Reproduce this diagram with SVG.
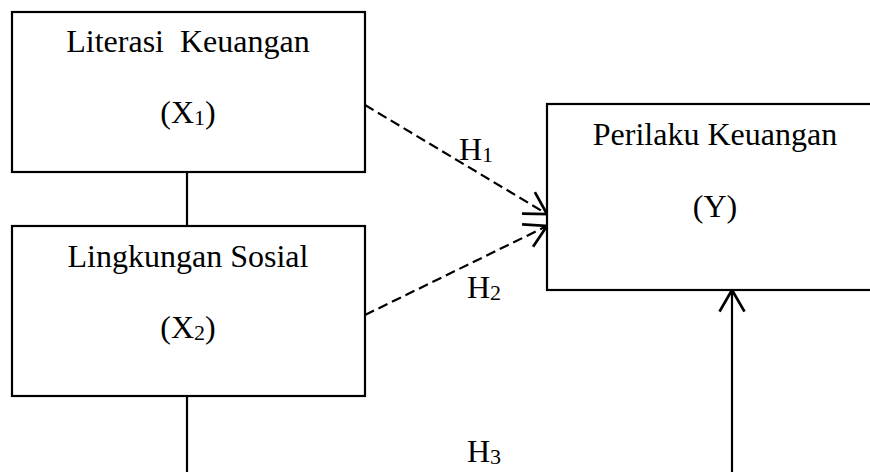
<svg xmlns="http://www.w3.org/2000/svg" width="870" height="472" viewBox="0 0 870 472">
<style>
  .box { fill: #ffffff; stroke: #000000; stroke-width: 2.2; }
  .t { font-family: "Liberation Serif", "Times New Roman", serif; font-size: 32px; fill: #000000; white-space: pre; }
  .c { text-anchor: middle; }
  .sub { font-size: 22px; }
  .ln { stroke: #000000; stroke-width: 2.2; fill: none; }
  .dash { stroke-dasharray: 10 5; }
</style>
<defs>
  <marker id="arr" markerUnits="userSpaceOnUse" markerWidth="30" markerHeight="30" refX="0" refY="0" viewBox="-20 -12 22 24" orient="auto" overflow="visible">
    <path d="M -17.3 -10 L 0 0 L -17.3 10" fill="none" stroke="#000000" stroke-width="2.2"/>
  </marker>
</defs>
<rect width="870" height="472" fill="#ffffff"/>
<g id="connectors">
  <line class="ln" x1="187" y1="172" x2="187" y2="226"/>
  <line class="ln" x1="187" y1="396" x2="187" y2="472"/>
  <line class="ln dash" x1="365" y1="105" x2="547" y2="214" marker-end="url(#arr)"/>
  <line class="ln dash" x1="365" y1="315" x2="547" y2="226" marker-end="url(#arr)"/>
  <line class="ln" x1="732" y1="472" x2="732" y2="290" marker-end="url(#arr)"/>
  <text class="t" x="459" y="160">H<tspan class="sub" dy="2">1</tspan></text>
  <text class="t" x="467" y="298">H<tspan class="sub" dy="2">2</tspan></text>
  <text class="t" x="467" y="462">H<tspan class="sub" dy="2">3</tspan></text>
</g>
<g id="node-x1">
  <rect class="box" x="12" y="12" width="353" height="160"/>
  <text class="t c" x="188" y="52">Literasi  Keuangan</text>
  <text class="t c" x="188" y="123">(X<tspan class="sub" dy="2">1</tspan><tspan dy="-2">)</tspan></text>
</g>
<g id="node-x2">
  <rect class="box" x="12" y="226" width="353" height="170"/>
  <text class="t c" x="188" y="267">Lingkungan Sosial</text>
  <text class="t c" x="188" y="338">(X<tspan class="sub" dy="2">2</tspan><tspan dy="-2">)</tspan></text>
</g>
<g id="node-y">
  <rect class="box" x="547" y="104" width="360" height="186"/>
  <text class="t c" x="715" y="145">Perilaku Keuangan</text>
  <text class="t c" x="715" y="217">(Y)</text>
</g>
</svg>
